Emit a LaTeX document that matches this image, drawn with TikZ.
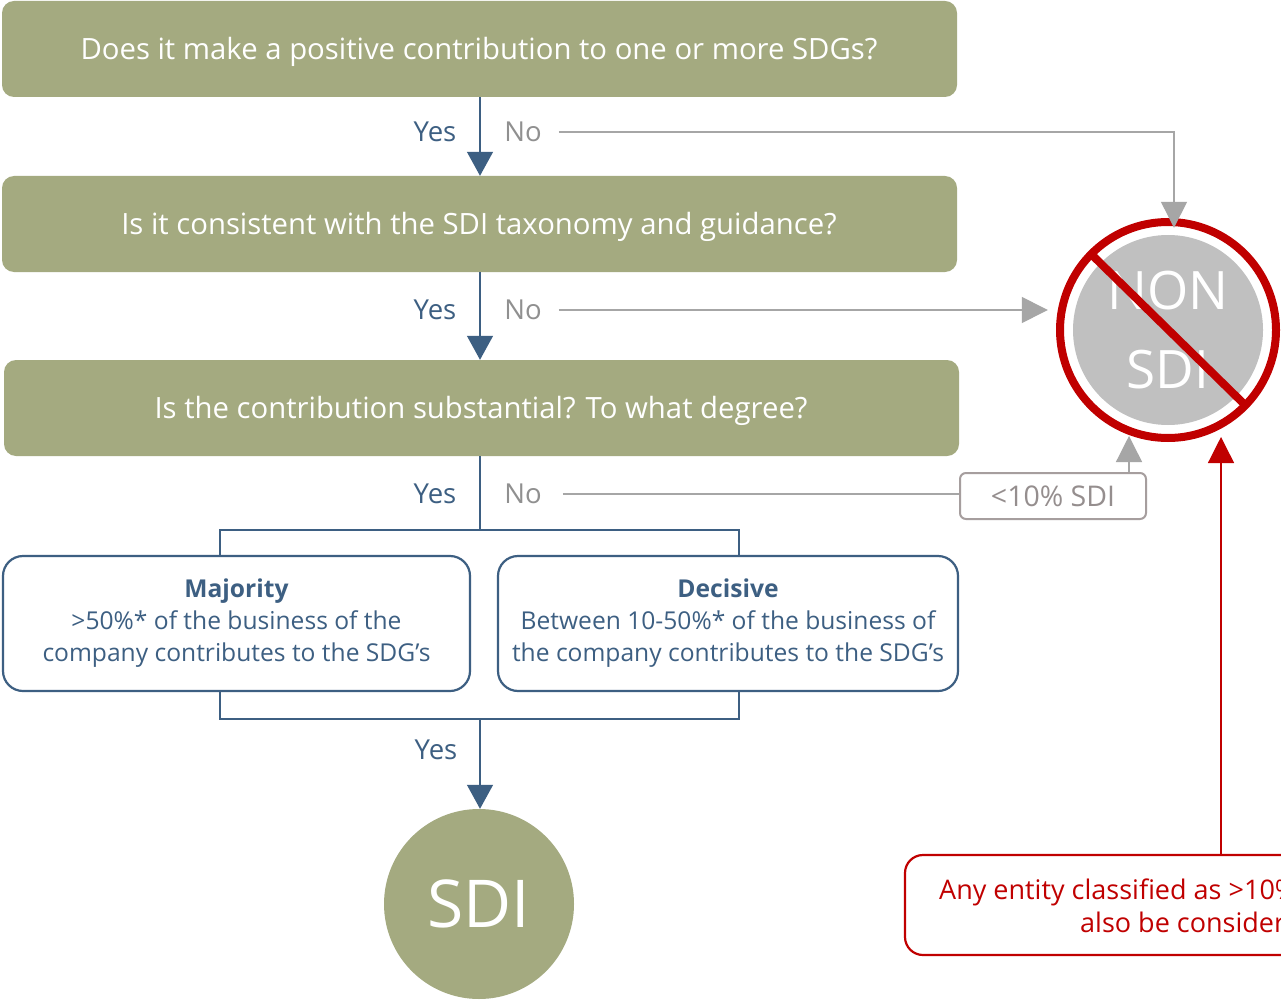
\documentclass[tikz,border=0pt]{standalone}
\usepackage{fontspec}
\setmainfont{Open Sans}
\usetikzlibrary{arrows.meta}
\definecolor{olivec}{HTML}{A4AA80}
\definecolor{bluec}{HTML}{3D5F82}
\definecolor{grayc}{HTML}{A6A6A6}
\definecolor{notext}{HTML}{909090}
\definecolor{nongray}{HTML}{C0C0C0}
\definecolor{boxgray}{HTML}{A69E9E}
\definecolor{redc}{HTML}{C00000}
\tikzset{
  qbox/.style={rectangle, rounded corners=12pt, fill=olivec, text=white, minimum width=955pt, minimum height=96pt, inner sep=0pt, font=\fontsize{29.3}{34}\selectfont},
  yeslbl/.style={text=bluec, font=\fontsize{27.5}{32}\selectfont, inner sep=0pt},
  nolbl/.style={text=notext, font=\fontsize{27.5}{32}\selectfont, inner sep=0pt},
  bline/.style={draw=bluec, line width=1.3pt},
  barrow/.style={bline, -{Triangle[width=26pt,length=24pt]}},
  gline/.style={draw=grayc, line width=1.3pt},
  garrow/.style={gline, -{Triangle[width=26pt,length=26pt]}},
  rarrow/.style={draw=redc, line width=1.3pt, -{Triangle[width=26pt,length=26pt]}},
  optbox/.style={rectangle, rounded corners=20pt, draw=bluec, line width=2.2pt, fill=white, minimum height=135pt, inner sep=0pt, align=center, text=bluec, font=\fontsize{24.6}{32}\selectfont},
}
\begin{document}
\begin{tikzpicture}[x=1pt,y=-1pt]
\useasboundingbox[fill=white] (0,0) rectangle (1281,1000);
% question boxes
\node[qbox] (q1) at (479.5,49) {};
\node[text=white, font=\fontsize{29.3}{34}\selectfont, inner sep=0pt] (q1t) at (479,52) {Does it make a positive contribution to one or more SDGs?};
\node[qbox] (q2) at (479.5,224) {};
\node[text=white, font=\fontsize{29.3}{34}\selectfont, inner sep=0pt] (q2t) at (479,227) {Is it consistent with the SDI taxonomy and guidance?};
\node[qbox] (q3) at (481.5,408) {};
\node[text=white, font=\fontsize{29.3}{34}\selectfont, inner sep=0pt] (q3t) at (481,411) {Is the contribution substantial? To what degree?};
% yes/no labels
\node[yeslbl] (y1) at (435,132) {Yes};
\node[nolbl] (n1) at (523,132) {No};
\node[yeslbl] (y2) at (435,310) {Yes};
\node[nolbl] (n2) at (523,310) {No};
\node[yeslbl] (y3) at (435,494) {Yes};
\node[nolbl] (n3) at (523,494) {No};
\node[yeslbl] (y4) at (436,750) {Yes};
% NON SDI
\node[circle, minimum size=224pt, inner sep=0pt] (non) at (1168,330) {};
\fill[nongray] (non.center) circle (95);
\node[text=white, font=\fontsize{53}{60}\selectfont] (nont) at (1168,291) {NON};
\node[text=white, font=\fontsize{53}{60}\selectfont] (sdit) at (1168,370) {SDI};
\draw[redc, line width=8pt] (1090,253) -- (1243,403);
\draw[redc, line width=8pt] (non.center) circle (108);
% <10% box
\node[rectangle, rounded corners=6pt, draw=boxgray, line width=2pt, minimum width=186pt, minimum height=46pt, text=boxgray!90!black, font=\fontsize{28.5}{32}\selectfont, inner sep=0pt] (lt) at (1053,496) {<10\% SDI};
% SDI circle
\node[circle, fill=olivec, minimum size=190pt, inner sep=0pt, text=white, font=\fontsize{66}{70}\selectfont] (sdi) at (479,904) {SDI};
% option boxes
\node[optbox, minimum width=467pt] (maj) at (236.5,623.5) {\raisebox{4pt}{\bfseries Majority}\\[-4pt]>50\%* of the business of the\\company contributes to the SDG’s};
\node[optbox, minimum width=460pt] (dec) at (728,623.5) {\raisebox{4pt}{\bfseries Decisive}\\[-4pt]Between 10-50\%* of the business of\\the company contributes to the SDG’s};
% red box
\node[rectangle, rounded corners=18pt, draw=redc, line width=2.2pt, minimum width=420pt, minimum height=100pt, inner sep=0pt] (rb) at (1115,905) {};
\node[anchor=base west, text=redc, font=\fontsize{27}{32}\selectfont, inner sep=0pt] (rt1) at (939,899) {Any entity classified as >10\%};
\node[anchor=base west, text=redc, font=\fontsize{27}{32}\selectfont, inner sep=0pt] (rt2) at (1080,932) {also be consider};
% connectors yes
\coordinate (split) at (480,530);
\coordinate (join) at (480,719);
\draw[barrow] (split |- q1.south) -- (split |- q2.north);
\draw[barrow] (split |- q2.south) -- (split |- q3.north);
\draw[bline] (split |- q3.south) -- (split);
\draw[bline] ([xshift=-16.5pt]maj.north) |- (split) -| ([xshift=11pt]dec.north);
\draw[bline] ([xshift=-16.5pt]maj.south) |- (join) -| ([xshift=11pt]dec.south);
\draw[barrow] (join) -- (join |- sdi.north);
% connectors no
\draw[garrow] ([xshift=17pt]n1.east) -| ([xshift=6pt,yshift=-10pt]non.north);
\draw[garrow, shorten >=8pt] ([xshift=17pt]n2.east) -- (non.west |- n2);
\draw[gline] ([xshift=21pt]n3.east) -- (lt.west |- n3);
\draw[garrow] ([xshift=76pt]lt.north) -- ++(0,-36);
\draw[rarrow] (rb.north -| 1221,0) -- (1221,437);
\end{tikzpicture}
\end{document}
